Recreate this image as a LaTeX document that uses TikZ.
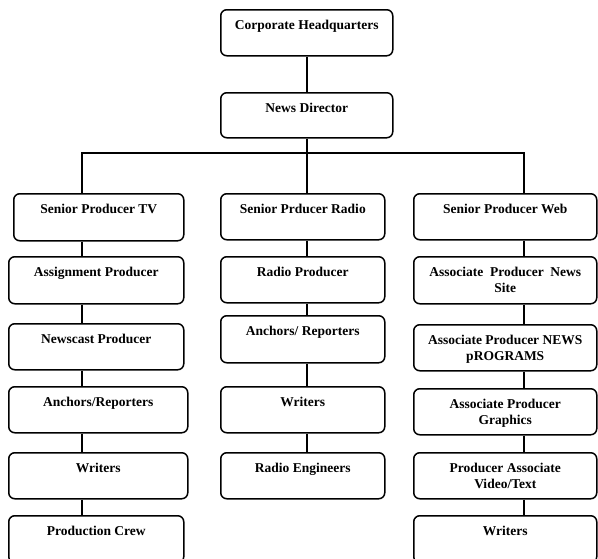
\documentclass[tikz,border=0pt]{standalone}
\usepackage{fontspec}
\setmainfont{Liberation Serif}
\tikzset{
  orgbox/.style={draw=black, line width=1.5pt, rounded corners=6pt, inner sep=0pt,
    anchor=north west, font=\bfseries\fontsize{13.5}{16.5}\selectfont},
  conn/.style={draw=black, line width=1.6pt},
}
\newcommand{\bxt}[3]{\parbox[c][#2][t]{#1}{\centering\rule{0pt}{19.5pt}#3\par}}
\begin{document}
\begin{tikzpicture}
\useasboundingbox (0,0) rectangle (598pt,-558pt);
\fill[white] (0,0) rectangle (598pt,-558pt);
\clip (0,0) rectangle (598pt,-558pt);
% top
\node[orgbox] (hq) at (220pt,-9pt) {\bxt{172pt}{46pt}{Corporate Headquarters}};
\node[orgbox] (nd) at (220pt,-92pt) {\bxt{172pt}{45pt}{News Director}};
% TV column
\node[orgbox] (tv1) at (13pt,-193pt) {\bxt{170pt}{47pt}{Senior Producer TV}};
\node[orgbox] (tv2) at (8pt,-256pt) {\bxt{175pt}{47pt}{Assignment Producer}};
\node[orgbox] (tv3) at (8pt,-323pt) {\bxt{175pt}{46pt}{Newscast Producer}};
\node[orgbox] (tv4) at (8pt,-386pt) {\bxt{179pt}{46pt}{Anchors/Reporters}};
\node[orgbox] (tv5) at (8pt,-452pt) {\bxt{179pt}{46pt}{Writers}};
\node[orgbox] (tv6) at (8pt,-515pt) {\bxt{175pt}{47pt}{Production Crew}};
% Radio column
\node[orgbox] (r1) at (220pt,-193pt) {\bxt{164pt}{46pt}{Senior Prducer Radio}};
\node[orgbox] (r2) at (220pt,-256pt) {\bxt{164pt}{46pt}{Radio Producer}};
\node[orgbox] (r3) at (220pt,-315pt) {\bxt{164pt}{47pt}{Anchors/ Reporters}};
\node[orgbox] (r4) at (220pt,-386pt) {\bxt{164pt}{46pt}{Writers}};
\node[orgbox] (r5) at (220pt,-452pt) {\bxt{164pt}{46pt}{Radio Engineers}};
% Web column
\node[orgbox] (w1) at (413pt,-193pt) {\bxt{183pt}{46pt}{Senior Producer Web}};
\node[orgbox] (w2) at (413pt,-256pt) {\bxt{183pt}{47pt}{Associate~ Producer~ News\\Site}};
\node[orgbox] (w3) at (413pt,-324pt) {\bxt{183pt}{46pt}{Associate Producer NEWS\\pROGRAMS}};
\node[orgbox] (w4) at (413pt,-388pt) {\bxt{183pt}{46pt}{Associate Producer\\Graphics}};
\node[orgbox] (w5) at (413pt,-452pt) {\bxt{183pt}{46pt}{Producer Associate\\Video/Text}};
\node[orgbox] (w6) at (413pt,-515pt) {\bxt{183pt}{47pt}{Writers}};
% connector guide coordinates
\coordinate (cx) at (307pt,0pt);
\coordinate (lx) at (82pt,0pt);
\coordinate (rx) at (524pt,0pt);
\coordinate (bar) at (307pt,-153pt);
% connectors
\draw[conn] (hq.south -| cx) -- (nd.north -| cx);
\draw[conn] (nd.south -| cx) -- (r1.north -| cx);
\draw[conn] (tv1.north -| lx) |- (bar) -| (w1.north -| rx);
\foreach \a/\b in {tv1/tv2,tv2/tv3,tv3/tv4,tv4/tv5,tv5/tv6}
  \draw[conn] (\a.south -| lx) -- (\b.north -| lx);
\foreach \a/\b in {r1/r2,r2/r3,r3/r4,r4/r5}
  \draw[conn] (\a.south -| cx) -- (\b.north -| cx);
\foreach \a/\b in {w1/w2,w2/w3,w3/w4,w4/w5,w5/w6}
  \draw[conn] (\a.south -| rx) -- (\b.north -| rx);
\end{tikzpicture}
\end{document}
